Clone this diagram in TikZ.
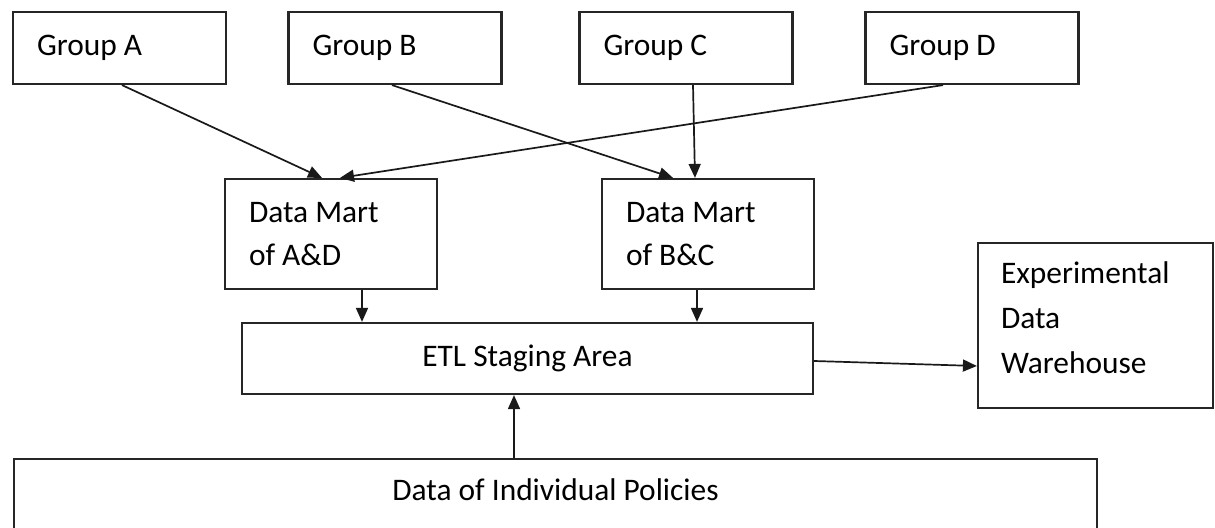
\documentclass[tikz,border=0pt]{standalone}
\usepackage{fontspec}
\setmainfont{Carlito}
\usetikzlibrary{arrows.meta}

\begin{document}
\begin{tikzpicture}[x=0.5pt,y=-0.5pt,
  box/.style={draw=black!85,line width=1.1pt,inner xsep=12pt,inner ysep=0pt,
    align=flush left,font=\fontsize{15.7}{21.5}\selectfont},
  grp/.style={box,minimum height=36pt,text width=82.5pt},
  mart/.style={box,minimum height=55pt,text width=82pt},
  arr/.style={-{Triangle[length=7pt,width=6pt]},line width=0.85pt,draw=black!90}]
\useasboundingbox (0,0) rectangle (1215,528);

\node[grp] (grpA) at (119.5,48) {Group A};
\node[grp] (grpB) at (395,48) {Group B};
\node[grp] (grpC) at (686,48) {Group C};
\node[grp] (grpD) at (972,48) {Group D};

\node[mart] (martAD) at (331,234) {Data Mart\\of A\&D};
\node[mart] (martBC) at (708,234) {Data Mart\\of B\&C};

\node[box,align=flush center,minimum height=35.5pt,text width=261.5pt] (etl) at (527.5,358.5) {ETL Staging Area};
\node[box,inner xsep=11.5pt,minimum height=82.5pt,text width=94.5pt,
  font=\fontsize{15.7}{22.5}\selectfont] (exp) at (1095.5,325.5) {Experimental\\Data\\Warehouse\\[-14.5pt]\mbox{}};

\node[box,anchor=north,minimum width=541.5pt,minimum height=80pt] (pol) at (555.5,458) {};
\node[font=\fontsize{15.7}{21.5}\selectfont] (polTxt) at (555.5,490) {Data of Individual Policies};

% groups to data marts
\draw[arr] ([xshift=1.25pt]grpA.south) -- ([xshift=-4.5pt]martAD.north);
\draw[arr] ([xshift=-14.5pt]grpD.south) -- ([xshift=4.5pt]martAD.north);
\draw[arr] ([xshift=-1.5pt]grpB.south) -- ([xshift=-17.5pt]martBC.north);
\draw[arr] ([xshift=3.5pt]grpC.south) -- ([xshift=-6.5pt]martBC.north);

% into staging area
\coordinate (adOut) at ([xshift=15.5pt]martAD.south);
\coordinate (bcOut) at ([xshift=-5.5pt]martBC.south);
\coordinate (polOut) at ([xshift=-20.75pt]pol.north);
\draw[arr] (adOut) -- (adOut |- etl.north);
\draw[arr] (bcOut) -- (bcOut |- etl.north);
\draw[arr] (polOut) -- (polOut |- etl.south);

\draw[arr] ([yshift=-1.25pt]etl.east) -- ([yshift=-20.25pt]exp.west);
\end{tikzpicture}
\end{document}
